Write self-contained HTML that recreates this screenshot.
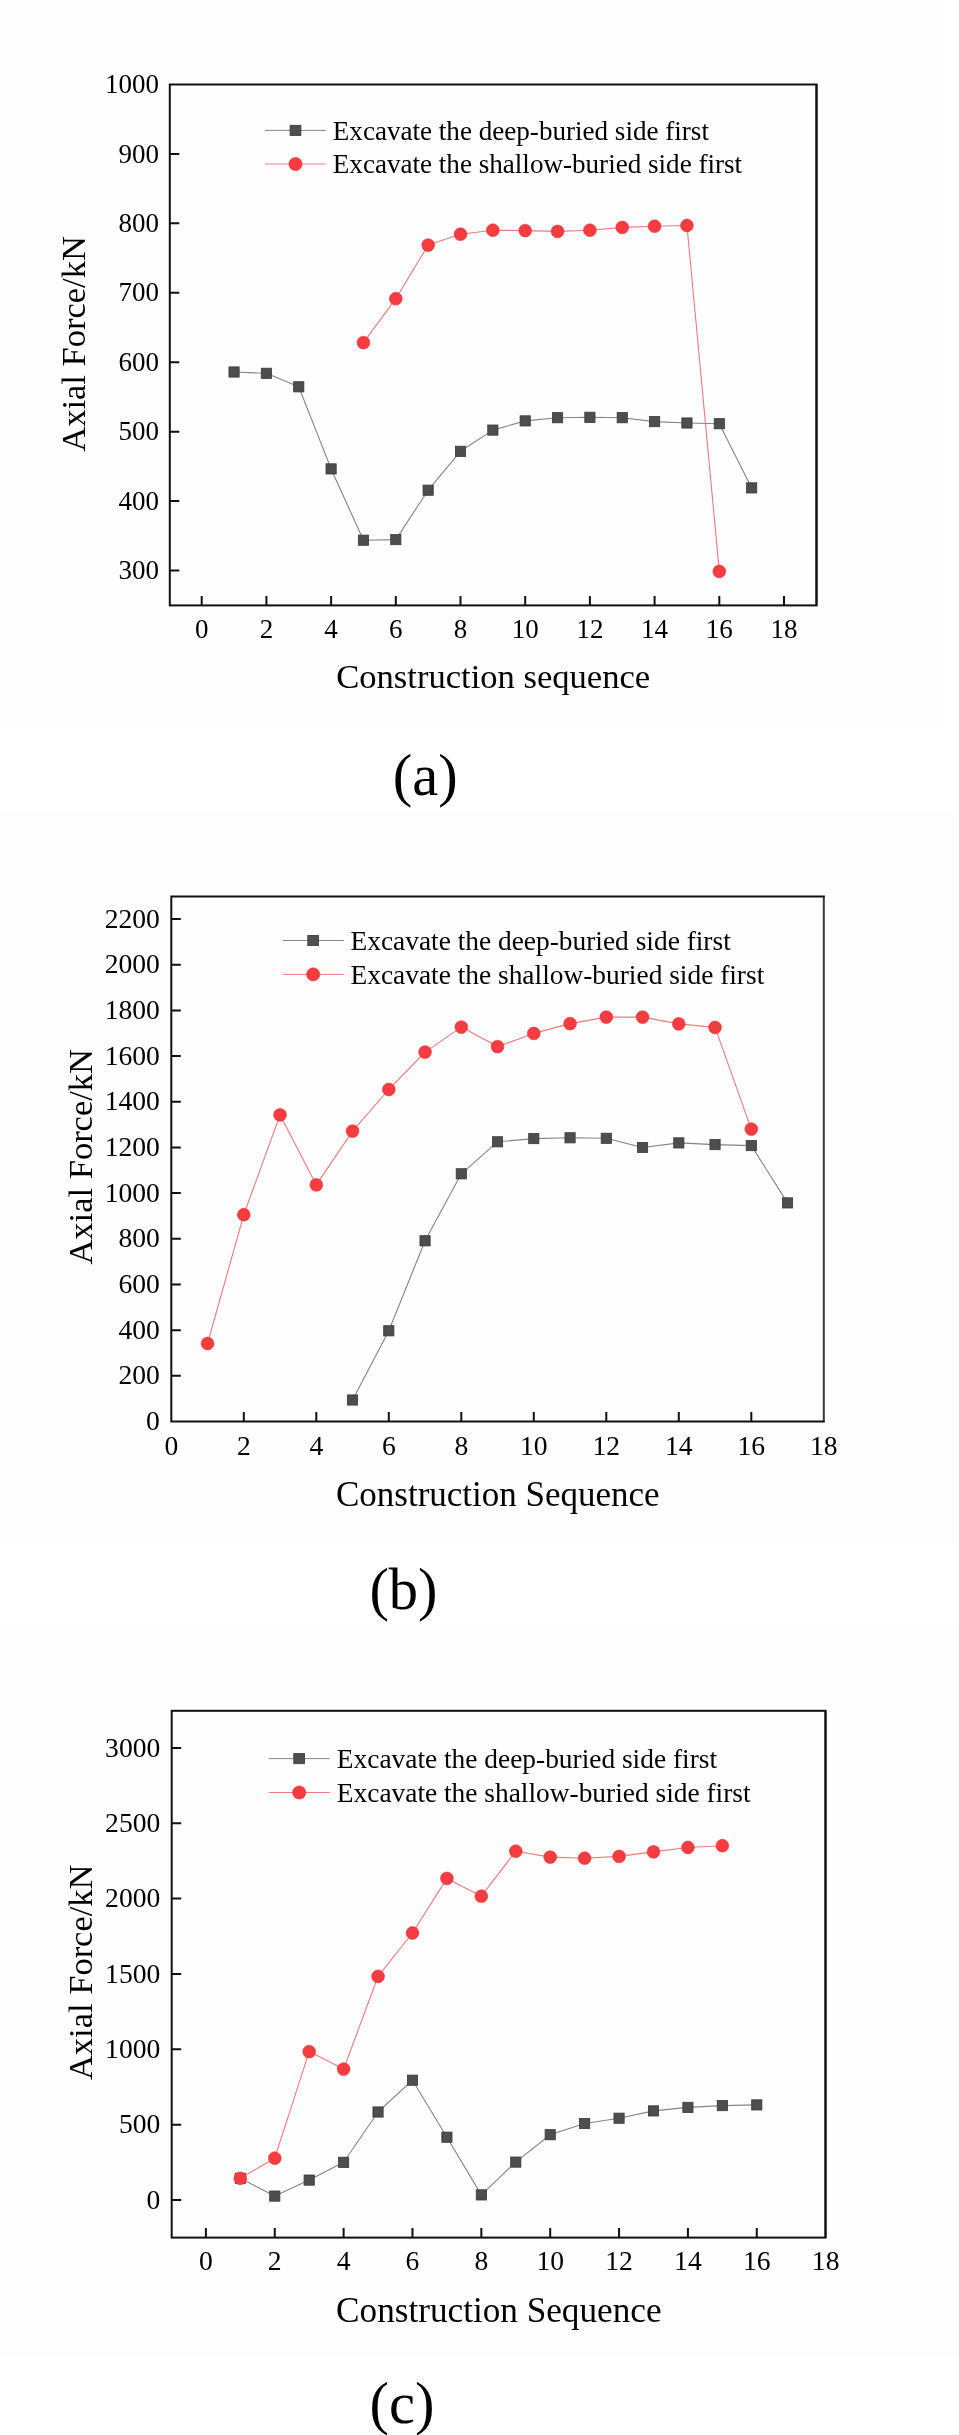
<!DOCTYPE html><html><head><meta charset="utf-8"><style>html,body{margin:0;padding:0;background:#fff;}svg{display:block;will-change:transform;}</style></head><body>
<svg width="959" height="2435" viewBox="0 0 959 2435" font-family='"Liberation Serif", serif'>
<rect width="959" height="2435" fill="#ffffff"/>
<rect x="0" y="0" width="948" height="726" fill="#fefefe"/>
<rect x="0" y="811" width="957" height="733" fill="#fefefe"/>
<rect x="0" y="1626" width="959" height="731" fill="#fefefe"/>
<g><polyline fill="none" stroke="#858585" stroke-width="1.1" stroke-linejoin="round" points="234.05,372 266.4,373.3 298.75,386.8 331.1,468.9 363.45,540.2 395.8,539.6 428.15,490.2 460.5,451.3 492.85,430.1 525.2,420.9 557.55,417.7 589.9,417.3 622.25,417.7 654.6,421.6 686.95,423 719.3,423.7 751.65,487.9"/>
<rect x="228.95" y="366.9" width="10.2" height="10.2" fill="#4e4e4e" stroke="#3a3a3a" stroke-width="0.8"/>
<rect x="261.3" y="368.2" width="10.2" height="10.2" fill="#4e4e4e" stroke="#3a3a3a" stroke-width="0.8"/>
<rect x="293.65" y="381.7" width="10.2" height="10.2" fill="#4e4e4e" stroke="#3a3a3a" stroke-width="0.8"/>
<rect x="326" y="463.8" width="10.2" height="10.2" fill="#4e4e4e" stroke="#3a3a3a" stroke-width="0.8"/>
<rect x="358.35" y="535.1" width="10.2" height="10.2" fill="#4e4e4e" stroke="#3a3a3a" stroke-width="0.8"/>
<rect x="390.7" y="534.5" width="10.2" height="10.2" fill="#4e4e4e" stroke="#3a3a3a" stroke-width="0.8"/>
<rect x="423.05" y="485.1" width="10.2" height="10.2" fill="#4e4e4e" stroke="#3a3a3a" stroke-width="0.8"/>
<rect x="455.4" y="446.2" width="10.2" height="10.2" fill="#4e4e4e" stroke="#3a3a3a" stroke-width="0.8"/>
<rect x="487.75" y="425" width="10.2" height="10.2" fill="#4e4e4e" stroke="#3a3a3a" stroke-width="0.8"/>
<rect x="520.1" y="415.8" width="10.2" height="10.2" fill="#4e4e4e" stroke="#3a3a3a" stroke-width="0.8"/>
<rect x="552.45" y="412.6" width="10.2" height="10.2" fill="#4e4e4e" stroke="#3a3a3a" stroke-width="0.8"/>
<rect x="584.8" y="412.2" width="10.2" height="10.2" fill="#4e4e4e" stroke="#3a3a3a" stroke-width="0.8"/>
<rect x="617.15" y="412.6" width="10.2" height="10.2" fill="#4e4e4e" stroke="#3a3a3a" stroke-width="0.8"/>
<rect x="649.5" y="416.5" width="10.2" height="10.2" fill="#4e4e4e" stroke="#3a3a3a" stroke-width="0.8"/>
<rect x="681.85" y="417.9" width="10.2" height="10.2" fill="#4e4e4e" stroke="#3a3a3a" stroke-width="0.8"/>
<rect x="714.2" y="418.6" width="10.2" height="10.2" fill="#4e4e4e" stroke="#3a3a3a" stroke-width="0.8"/>
<rect x="746.55" y="482.8" width="10.2" height="10.2" fill="#4e4e4e" stroke="#3a3a3a" stroke-width="0.8"/>
<polyline fill="none" stroke="#f4797d" stroke-width="1.1" stroke-linejoin="round" points="363.45,342.6 395.8,298.7 428.15,245.1 460.5,234.2 492.85,230.2 525.2,230.6 557.55,231.4 589.9,230.2 622.25,227.4 654.6,226.2 686.95,225.5 719.3,571.4"/>
<circle cx="363.45" cy="342.6" r="6.4" fill="#f43c41" stroke="#ee3439" stroke-width="0.6"/>
<circle cx="395.8" cy="298.7" r="6.4" fill="#f43c41" stroke="#ee3439" stroke-width="0.6"/>
<circle cx="428.15" cy="245.1" r="6.4" fill="#f43c41" stroke="#ee3439" stroke-width="0.6"/>
<circle cx="460.5" cy="234.2" r="6.4" fill="#f43c41" stroke="#ee3439" stroke-width="0.6"/>
<circle cx="492.85" cy="230.2" r="6.4" fill="#f43c41" stroke="#ee3439" stroke-width="0.6"/>
<circle cx="525.2" cy="230.6" r="6.4" fill="#f43c41" stroke="#ee3439" stroke-width="0.6"/>
<circle cx="557.55" cy="231.4" r="6.4" fill="#f43c41" stroke="#ee3439" stroke-width="0.6"/>
<circle cx="589.9" cy="230.2" r="6.4" fill="#f43c41" stroke="#ee3439" stroke-width="0.6"/>
<circle cx="622.25" cy="227.4" r="6.4" fill="#f43c41" stroke="#ee3439" stroke-width="0.6"/>
<circle cx="654.6" cy="226.2" r="6.4" fill="#f43c41" stroke="#ee3439" stroke-width="0.6"/>
<circle cx="686.95" cy="225.5" r="6.4" fill="#f43c41" stroke="#ee3439" stroke-width="0.6"/>
<circle cx="719.3" cy="571.4" r="6.4" fill="#f43c41" stroke="#ee3439" stroke-width="0.6"/>
<path d="M816.5 84.5V605.4" stroke="#111" stroke-width="2.0" fill="none"/>
<rect x="169.8" y="84.5" width="646.7" height="520.9" fill="none" stroke="#111" stroke-width="2.0"/>
<path d="M201.7 605.4V595.9M266.4 605.4V595.9M331.1 605.4V595.9M395.8 605.4V595.9M460.5 605.4V595.9M525.2 605.4V595.9M589.9 605.4V595.9M654.6 605.4V595.9M719.3 605.4V595.9M784 605.4V595.9M169.8 570.51H179.3M169.8 501.08H179.3M169.8 431.65H179.3M169.8 362.22H179.3M169.8 292.79H179.3M169.8 223.36H179.3M169.8 153.93H179.3" stroke="#111" stroke-width="2.0" fill="none"/>
<text x="159" y="579.11" font-size="27.0" text-anchor="end">300</text>
<text x="159" y="509.68" font-size="27.0" text-anchor="end">400</text>
<text x="159" y="440.25" font-size="27.0" text-anchor="end">500</text>
<text x="159" y="370.82" font-size="27.0" text-anchor="end">600</text>
<text x="159" y="301.39" font-size="27.0" text-anchor="end">700</text>
<text x="159" y="231.96" font-size="27.0" text-anchor="end">800</text>
<text x="159" y="162.53" font-size="27.0" text-anchor="end">900</text>
<text x="159" y="93.1" font-size="27.0" text-anchor="end">1000</text>
<text x="201.7" y="638" font-size="27.0" text-anchor="middle">0</text>
<text x="266.4" y="638" font-size="27.0" text-anchor="middle">2</text>
<text x="331.1" y="638" font-size="27.0" text-anchor="middle">4</text>
<text x="395.8" y="638" font-size="27.0" text-anchor="middle">6</text>
<text x="460.5" y="638" font-size="27.0" text-anchor="middle">8</text>
<text x="525.2" y="638" font-size="27.0" text-anchor="middle">10</text>
<text x="589.9" y="638" font-size="27.0" text-anchor="middle">12</text>
<text x="654.6" y="638" font-size="27.0" text-anchor="middle">14</text>
<text x="719.3" y="638" font-size="27.0" text-anchor="middle">16</text>
<text x="784" y="638" font-size="27.0" text-anchor="middle">18</text>
<line x1="265.0" y1="130.4" x2="325.9" y2="130.4" stroke="#858585" stroke-width="1"/>
<rect x="290.1" y="125.3" width="10.799999999999999" height="10.2" fill="#4e4e4e" stroke="#3a3a3a" stroke-width="0.8"/>
<line x1="265.0" y1="164.0" x2="325.9" y2="164.0" stroke="#f4797d" stroke-width="1"/>
<circle cx="295.5" cy="164.0" r="6.6000000000000005" fill="#f43c41" stroke="#ee3439" stroke-width="0.6"/>
<text x="332.8" y="139.7" font-size="27.1">Excavate the deep-buried side first</text>
<text x="332.8" y="172.5" font-size="27.1">Excavate the shallow-buried side first</text>
<text transform="translate(85.3 344.0) rotate(-90)" font-size="34.5" text-anchor="middle">Axial Force/kN</text>
<text x="493.2" y="688.4" font-size="34.6" text-anchor="middle">Construction sequence</text>
<text x="425.2" y="795.0" font-size="58.5" text-anchor="middle">(a)</text></g>
<g><polyline fill="none" stroke="#858585" stroke-width="1.1" stroke-linejoin="round" points="352.55,1400 388.8,1330.8 425.05,1240.8 461.3,1173.8 497.55,1141.8 533.8,1138.6 570.05,1137.8 606.3,1138.3 642.55,1147.5 678.8,1142.9 715.05,1144.6 751.3,1145.6 787.55,1202.9"/>
<rect x="347.45" y="1394.9" width="10.2" height="10.2" fill="#4e4e4e" stroke="#3a3a3a" stroke-width="0.8"/>
<rect x="383.7" y="1325.7" width="10.2" height="10.2" fill="#4e4e4e" stroke="#3a3a3a" stroke-width="0.8"/>
<rect x="419.95" y="1235.7" width="10.2" height="10.2" fill="#4e4e4e" stroke="#3a3a3a" stroke-width="0.8"/>
<rect x="456.2" y="1168.7" width="10.2" height="10.2" fill="#4e4e4e" stroke="#3a3a3a" stroke-width="0.8"/>
<rect x="492.45" y="1136.7" width="10.2" height="10.2" fill="#4e4e4e" stroke="#3a3a3a" stroke-width="0.8"/>
<rect x="528.7" y="1133.5" width="10.2" height="10.2" fill="#4e4e4e" stroke="#3a3a3a" stroke-width="0.8"/>
<rect x="564.95" y="1132.7" width="10.2" height="10.2" fill="#4e4e4e" stroke="#3a3a3a" stroke-width="0.8"/>
<rect x="601.2" y="1133.2" width="10.2" height="10.2" fill="#4e4e4e" stroke="#3a3a3a" stroke-width="0.8"/>
<rect x="637.45" y="1142.4" width="10.2" height="10.2" fill="#4e4e4e" stroke="#3a3a3a" stroke-width="0.8"/>
<rect x="673.7" y="1137.8" width="10.2" height="10.2" fill="#4e4e4e" stroke="#3a3a3a" stroke-width="0.8"/>
<rect x="709.95" y="1139.5" width="10.2" height="10.2" fill="#4e4e4e" stroke="#3a3a3a" stroke-width="0.8"/>
<rect x="746.2" y="1140.5" width="10.2" height="10.2" fill="#4e4e4e" stroke="#3a3a3a" stroke-width="0.8"/>
<rect x="782.45" y="1197.8" width="10.2" height="10.2" fill="#4e4e4e" stroke="#3a3a3a" stroke-width="0.8"/>
<polyline fill="none" stroke="#f4797d" stroke-width="1.1" stroke-linejoin="round" points="207.55,1343.5 243.8,1214.7 280.05,1114.9 316.3,1184.9 352.55,1131.1 388.8,1089.5 425.05,1052.1 461.3,1027.1 497.55,1046.6 533.8,1033.4 570.05,1023.6 606.3,1017.1 642.55,1017.1 678.8,1023.9 715.05,1027.4 751.3,1129.1"/>
<circle cx="207.55" cy="1343.5" r="6.4" fill="#f43c41" stroke="#ee3439" stroke-width="0.6"/>
<circle cx="243.8" cy="1214.7" r="6.4" fill="#f43c41" stroke="#ee3439" stroke-width="0.6"/>
<circle cx="280.05" cy="1114.9" r="6.4" fill="#f43c41" stroke="#ee3439" stroke-width="0.6"/>
<circle cx="316.3" cy="1184.9" r="6.4" fill="#f43c41" stroke="#ee3439" stroke-width="0.6"/>
<circle cx="352.55" cy="1131.1" r="6.4" fill="#f43c41" stroke="#ee3439" stroke-width="0.6"/>
<circle cx="388.8" cy="1089.5" r="6.4" fill="#f43c41" stroke="#ee3439" stroke-width="0.6"/>
<circle cx="425.05" cy="1052.1" r="6.4" fill="#f43c41" stroke="#ee3439" stroke-width="0.6"/>
<circle cx="461.3" cy="1027.1" r="6.4" fill="#f43c41" stroke="#ee3439" stroke-width="0.6"/>
<circle cx="497.55" cy="1046.6" r="6.4" fill="#f43c41" stroke="#ee3439" stroke-width="0.6"/>
<circle cx="533.8" cy="1033.4" r="6.4" fill="#f43c41" stroke="#ee3439" stroke-width="0.6"/>
<circle cx="570.05" cy="1023.6" r="6.4" fill="#f43c41" stroke="#ee3439" stroke-width="0.6"/>
<circle cx="606.3" cy="1017.1" r="6.4" fill="#f43c41" stroke="#ee3439" stroke-width="0.6"/>
<circle cx="642.55" cy="1017.1" r="6.4" fill="#f43c41" stroke="#ee3439" stroke-width="0.6"/>
<circle cx="678.8" cy="1023.9" r="6.4" fill="#f43c41" stroke="#ee3439" stroke-width="0.6"/>
<circle cx="715.05" cy="1027.4" r="6.4" fill="#f43c41" stroke="#ee3439" stroke-width="0.6"/>
<circle cx="751.3" cy="1129.1" r="6.4" fill="#f43c41" stroke="#ee3439" stroke-width="0.6"/>
<path d="M823.8 896.5V1421.5" stroke="#3a3a3a" stroke-width="2.0" fill="none"/>
<rect x="171.3" y="896.5" width="652.5" height="525" fill="none" stroke="#111" stroke-width="2.0" stroke-dasharray="653.5 523 1179.5"/>
<path d="M243.8 1421.5V1412M316.3 1421.5V1412M388.8 1421.5V1412M461.3 1421.5V1412M533.8 1421.5V1412M606.3 1421.5V1412M678.8 1421.5V1412M751.3 1421.5V1412M171.3 1375.82H180.8M171.3 1330.14H180.8M171.3 1284.46H180.8M171.3 1238.78H180.8M171.3 1193.1H180.8M171.3 1147.42H180.8M171.3 1101.74H180.8M171.3 1056.06H180.8M171.3 1010.38H180.8M171.3 964.7H180.8M171.3 919.02H180.8" stroke="#111" stroke-width="2.0" fill="none"/>
<text x="159.9" y="1430.1" font-size="27.6" text-anchor="end">0</text>
<text x="159.9" y="1384.42" font-size="27.6" text-anchor="end">200</text>
<text x="159.9" y="1338.74" font-size="27.6" text-anchor="end">400</text>
<text x="159.9" y="1293.06" font-size="27.6" text-anchor="end">600</text>
<text x="159.9" y="1247.38" font-size="27.6" text-anchor="end">800</text>
<text x="159.9" y="1201.7" font-size="27.6" text-anchor="end">1000</text>
<text x="159.9" y="1156.02" font-size="27.6" text-anchor="end">1200</text>
<text x="159.9" y="1110.34" font-size="27.6" text-anchor="end">1400</text>
<text x="159.9" y="1064.66" font-size="27.6" text-anchor="end">1600</text>
<text x="159.9" y="1018.98" font-size="27.6" text-anchor="end">1800</text>
<text x="159.9" y="973.3" font-size="27.6" text-anchor="end">2000</text>
<text x="159.9" y="927.62" font-size="27.6" text-anchor="end">2200</text>
<text x="171.3" y="1454.7" font-size="27.6" text-anchor="middle">0</text>
<text x="243.8" y="1454.7" font-size="27.6" text-anchor="middle">2</text>
<text x="316.3" y="1454.7" font-size="27.6" text-anchor="middle">4</text>
<text x="388.8" y="1454.7" font-size="27.6" text-anchor="middle">6</text>
<text x="461.3" y="1454.7" font-size="27.6" text-anchor="middle">8</text>
<text x="533.8" y="1454.7" font-size="27.6" text-anchor="middle">10</text>
<text x="606.3" y="1454.7" font-size="27.6" text-anchor="middle">12</text>
<text x="678.8" y="1454.7" font-size="27.6" text-anchor="middle">14</text>
<text x="751.3" y="1454.7" font-size="27.6" text-anchor="middle">16</text>
<text x="823.8" y="1454.7" font-size="27.6" text-anchor="middle">18</text>
<line x1="283.0" y1="940.5" x2="343.8" y2="940.5" stroke="#858585" stroke-width="1"/>
<rect x="307.8" y="935.4" width="10.799999999999999" height="10.2" fill="#4e4e4e" stroke="#3a3a3a" stroke-width="0.8"/>
<line x1="283.0" y1="974.4" x2="343.8" y2="974.4" stroke="#f4797d" stroke-width="1"/>
<circle cx="313.2" cy="974.4" r="6.6000000000000005" fill="#f43c41" stroke="#ee3439" stroke-width="0.6"/>
<text x="350.5" y="950.0" font-size="27.4">Excavate the deep-buried side first</text>
<text x="350.5" y="983.8" font-size="27.4">Excavate the shallow-buried side first</text>
<text transform="translate(92.3 1156.8) rotate(-90)" font-size="34.5" text-anchor="middle">Axial Force/kN</text>
<text x="497.8" y="1506.2" font-size="35.0" text-anchor="middle">Construction Sequence</text>
<text x="403.5" y="1609.0" font-size="58.5" text-anchor="middle">(b)</text></g>
<g><polyline fill="none" stroke="#858585" stroke-width="1.1" stroke-linejoin="round" points="240.33,2178.3 274.76,2196.1 309.19,2180.1 343.62,2162.3 378.05,2112 412.48,2080.2 446.91,2137.2 481.34,2194.9 515.77,2162.1 550.2,2134.7 584.63,2123.5 619.06,2118.2 653.49,2110.9 687.92,2107.4 722.35,2105.6 756.78,2104.9"/>
<rect x="235.23" y="2173.2" width="10.2" height="10.2" fill="#4e4e4e" stroke="#3a3a3a" stroke-width="0.8"/>
<rect x="269.66" y="2191" width="10.2" height="10.2" fill="#4e4e4e" stroke="#3a3a3a" stroke-width="0.8"/>
<rect x="304.09" y="2175" width="10.2" height="10.2" fill="#4e4e4e" stroke="#3a3a3a" stroke-width="0.8"/>
<rect x="338.52" y="2157.2" width="10.2" height="10.2" fill="#4e4e4e" stroke="#3a3a3a" stroke-width="0.8"/>
<rect x="372.95" y="2106.9" width="10.2" height="10.2" fill="#4e4e4e" stroke="#3a3a3a" stroke-width="0.8"/>
<rect x="407.38" y="2075.1" width="10.2" height="10.2" fill="#4e4e4e" stroke="#3a3a3a" stroke-width="0.8"/>
<rect x="441.81" y="2132.1" width="10.2" height="10.2" fill="#4e4e4e" stroke="#3a3a3a" stroke-width="0.8"/>
<rect x="476.24" y="2189.8" width="10.2" height="10.2" fill="#4e4e4e" stroke="#3a3a3a" stroke-width="0.8"/>
<rect x="510.67" y="2157" width="10.2" height="10.2" fill="#4e4e4e" stroke="#3a3a3a" stroke-width="0.8"/>
<rect x="545.1" y="2129.6" width="10.2" height="10.2" fill="#4e4e4e" stroke="#3a3a3a" stroke-width="0.8"/>
<rect x="579.53" y="2118.4" width="10.2" height="10.2" fill="#4e4e4e" stroke="#3a3a3a" stroke-width="0.8"/>
<rect x="613.96" y="2113.1" width="10.2" height="10.2" fill="#4e4e4e" stroke="#3a3a3a" stroke-width="0.8"/>
<rect x="648.39" y="2105.8" width="10.2" height="10.2" fill="#4e4e4e" stroke="#3a3a3a" stroke-width="0.8"/>
<rect x="682.82" y="2102.3" width="10.2" height="10.2" fill="#4e4e4e" stroke="#3a3a3a" stroke-width="0.8"/>
<rect x="717.25" y="2100.5" width="10.2" height="10.2" fill="#4e4e4e" stroke="#3a3a3a" stroke-width="0.8"/>
<rect x="751.68" y="2099.8" width="10.2" height="10.2" fill="#4e4e4e" stroke="#3a3a3a" stroke-width="0.8"/>
<polyline fill="none" stroke="#f4797d" stroke-width="1.1" stroke-linejoin="round" points="240.33,2178.3 274.76,2158.2 309.19,2051.6 343.62,2069.1 378.05,1976.4 412.48,1933 446.91,1878.4 481.34,1896.2 515.77,1851.2 550.2,1857.1 584.63,1858.2 619.06,1856.4 653.49,1851.9 687.92,1847.5 722.35,1845.7"/>
<circle cx="240.33" cy="2178.3" r="6.4" fill="#f43c41" stroke="#ee3439" stroke-width="0.6"/>
<circle cx="274.76" cy="2158.2" r="6.4" fill="#f43c41" stroke="#ee3439" stroke-width="0.6"/>
<circle cx="309.19" cy="2051.6" r="6.4" fill="#f43c41" stroke="#ee3439" stroke-width="0.6"/>
<circle cx="343.62" cy="2069.1" r="6.4" fill="#f43c41" stroke="#ee3439" stroke-width="0.6"/>
<circle cx="378.05" cy="1976.4" r="6.4" fill="#f43c41" stroke="#ee3439" stroke-width="0.6"/>
<circle cx="412.48" cy="1933" r="6.4" fill="#f43c41" stroke="#ee3439" stroke-width="0.6"/>
<circle cx="446.91" cy="1878.4" r="6.4" fill="#f43c41" stroke="#ee3439" stroke-width="0.6"/>
<circle cx="481.34" cy="1896.2" r="6.4" fill="#f43c41" stroke="#ee3439" stroke-width="0.6"/>
<circle cx="515.77" cy="1851.2" r="6.4" fill="#f43c41" stroke="#ee3439" stroke-width="0.6"/>
<circle cx="550.2" cy="1857.1" r="6.4" fill="#f43c41" stroke="#ee3439" stroke-width="0.6"/>
<circle cx="584.63" cy="1858.2" r="6.4" fill="#f43c41" stroke="#ee3439" stroke-width="0.6"/>
<circle cx="619.06" cy="1856.4" r="6.4" fill="#f43c41" stroke="#ee3439" stroke-width="0.6"/>
<circle cx="653.49" cy="1851.9" r="6.4" fill="#f43c41" stroke="#ee3439" stroke-width="0.6"/>
<circle cx="687.92" cy="1847.5" r="6.4" fill="#f43c41" stroke="#ee3439" stroke-width="0.6"/>
<circle cx="722.35" cy="1845.7" r="6.4" fill="#f43c41" stroke="#ee3439" stroke-width="0.6"/>
<path d="M825.5 1710.8V2237.6" stroke="#111" stroke-width="2.0" fill="none"/>
<rect x="171.7" y="1710.8" width="653.8" height="526.8" fill="none" stroke="#111" stroke-width="2.0"/>
<path d="M205.9 2237.6V2228.1M274.76 2237.6V2228.1M343.62 2237.6V2228.1M412.48 2237.6V2228.1M481.34 2237.6V2228.1M550.2 2237.6V2228.1M619.06 2237.6V2228.1M687.92 2237.6V2228.1M756.78 2237.6V2228.1M171.7 2200H181.2M171.7 2124.65H181.2M171.7 2049.3H181.2M171.7 1973.95H181.2M171.7 1898.6H181.2M171.7 1823.25H181.2M171.7 1747.9H181.2" stroke="#111" stroke-width="2.0" fill="none"/>
<text x="160.3" y="2208.6" font-size="27.6" text-anchor="end">0</text>
<text x="160.3" y="2133.25" font-size="27.6" text-anchor="end">500</text>
<text x="160.3" y="2057.9" font-size="27.6" text-anchor="end">1000</text>
<text x="160.3" y="1982.55" font-size="27.6" text-anchor="end">1500</text>
<text x="160.3" y="1907.2" font-size="27.6" text-anchor="end">2000</text>
<text x="160.3" y="1831.85" font-size="27.6" text-anchor="end">2500</text>
<text x="160.3" y="1756.5" font-size="27.6" text-anchor="end">3000</text>
<text x="205.9" y="2270.3" font-size="27.6" text-anchor="middle">0</text>
<text x="274.76" y="2270.3" font-size="27.6" text-anchor="middle">2</text>
<text x="343.62" y="2270.3" font-size="27.6" text-anchor="middle">4</text>
<text x="412.48" y="2270.3" font-size="27.6" text-anchor="middle">6</text>
<text x="481.34" y="2270.3" font-size="27.6" text-anchor="middle">8</text>
<text x="550.2" y="2270.3" font-size="27.6" text-anchor="middle">10</text>
<text x="619.06" y="2270.3" font-size="27.6" text-anchor="middle">12</text>
<text x="687.92" y="2270.3" font-size="27.6" text-anchor="middle">14</text>
<text x="756.78" y="2270.3" font-size="27.6" text-anchor="middle">16</text>
<text x="825.64" y="2270.3" font-size="27.6" text-anchor="middle">18</text>
<line x1="268.8" y1="1758.6" x2="329.8" y2="1758.6" stroke="#858585" stroke-width="1"/>
<rect x="293.8" y="1753.5" width="10.799999999999999" height="10.2" fill="#4e4e4e" stroke="#3a3a3a" stroke-width="0.8"/>
<line x1="268.8" y1="1792.5" x2="329.8" y2="1792.5" stroke="#f4797d" stroke-width="1"/>
<circle cx="299.2" cy="1792.5" r="6.6000000000000005" fill="#f43c41" stroke="#ee3439" stroke-width="0.6"/>
<text x="336.8" y="1768.2" font-size="27.4">Excavate the deep-buried side first</text>
<text x="336.8" y="1801.5" font-size="27.4">Excavate the shallow-buried side first</text>
<text transform="translate(92.3 1972.3) rotate(-90)" font-size="34.5" text-anchor="middle">Axial Force/kN</text>
<text x="498.8" y="2322.2" font-size="35.2" text-anchor="middle">Construction Sequence</text>
<text x="402.0" y="2422.8" font-size="58.5" text-anchor="middle">(c)</text></g>
</svg></body></html>
